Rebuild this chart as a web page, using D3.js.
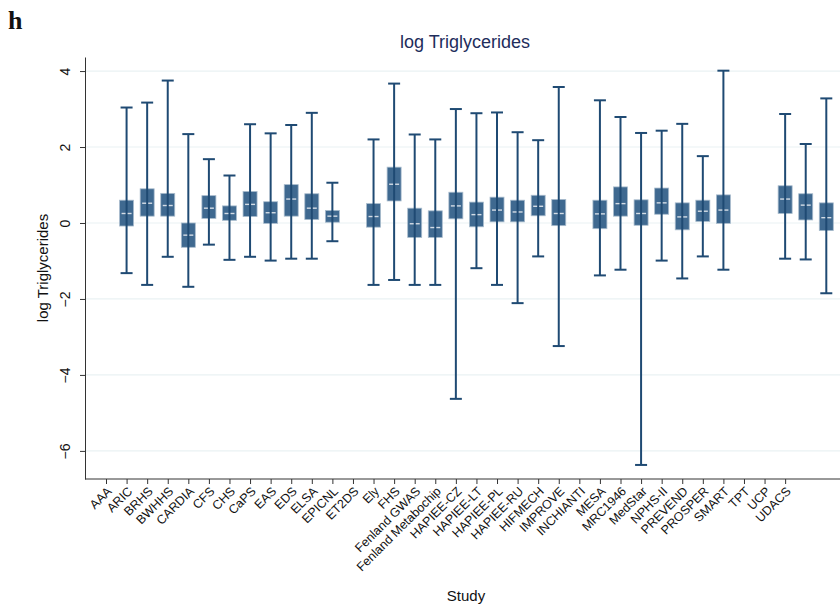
<!DOCTYPE html>
<html>
<head>
<meta charset="utf-8">
<script src="https://cdn.jsdelivr.net/npm/d3@7"></script>
<style>
  body { margin: 0; background: #fff; }
  text { font-family: "Liberation Sans", Arial, sans-serif; }
</style>
</head>
<body>
<div id="chart"></div>
<script>
// studies in plot order (last two are cut off at the right edge, no label shown)
var studies = ["AAA", "ARIC", "BRHS", "BWHHS", "CARDIA", "CFS", "CHS", "CaPS", "EAS", "EDS",
  "ELSA", "EPICNL", "ET2DS", "Ely", "FHS", "Fenland GWAS", "Fenland Metabochip", "HAPIEE-CZ",
  "HAPIEE-LT", "HAPIEE-PL", "HAPIEE-RU", "HIFMECH", "IMPROVE", "INCHIANTI", "MESA", "MRC1946",
  "MedStar", "NPHS-II", "PREVEND", "PROSPER", "SMART", "TPT", "UCP", "UDACS", "", ""];
// null = no data for the study
var whiskLo = [null, -1.32, -1.63, -0.89, -1.68, -0.57, -0.97, -0.89, -0.99, -0.94,
  -0.94, -0.48, null, -1.63, -1.50, -1.63, -1.63, -4.63,
  -1.19, -1.63, -2.11, -0.88, -3.24, null, -1.38, -1.23,
  -6.37, -0.99, -1.46, -0.88, -1.23, null, null, -0.94, -0.96, -1.85];
var q1 = [null, -0.08, 0.18, 0.18, -0.64, 0.12, 0.07, 0.17, -0.01, 0.18,
  0.09, 0.02, null, -0.11, 0.58, -0.38, -0.38, 0.11,
  -0.10, 0.03, 0.03, 0.19, -0.07, null, -0.15, 0.18,
  -0.06, 0.23, -0.18, 0.04, -0.01, null, null, 0.25, 0.08, -0.20];
var median = [null, 0.25, 0.52, 0.46, -0.32, 0.39, 0.25, 0.49, 0.27, 0.63,
  0.39, 0.18, null, 0.17, 1.02, -0.02, -0.12, 0.45,
  0.22, 0.34, 0.29, 0.44, 0.25, null, 0.24, 0.51,
  0.25, 0.53, 0.16, 0.31, 0.34, null, null, 0.63, 0.47, 0.14];
var q3 = [null, 0.60, 0.90, 0.78, 0.00, 0.72, 0.45, 0.83, 0.56, 1.01,
  0.77, 0.33, null, 0.51, 1.47, 0.39, 0.32, 0.81,
  0.55, 0.68, 0.60, 0.73, 0.62, null, 0.60, 0.95,
  0.61, 0.92, 0.53, 0.60, 0.74, null, null, 0.98, 0.77, 0.53];
var whiskHi = [null, 3.04, 3.17, 3.75, 2.34, 1.68, 1.25, 2.60, 2.36, 2.58,
  2.90, 1.06, null, 2.20, 3.67, 2.33, 2.20, 3.00,
  2.89, 2.91, 2.39, 2.18, 3.58, null, 3.23, 2.79,
  2.37, 2.43, 2.61, 1.76, 4.01, null, null, 2.87, 2.08, 3.28];
var yTicks = [4, 2, 0, -2, -4, -6];

var width = 840, height = 609;
var plotLeft = 85, plotTop = 57, plotBottom = 479;

var svg = d3.select("#chart").append("svg")
  .attr("width", width)
  .attr("height", height);

var x = d3.scalePoint()
  .domain(d3.range(studies.length))
  .range([106, 106 + 35 * 20.58]);

var y = d3.scaleLinear()
  .domain([-6.74, 4.37])
  .range([plotBottom, plotTop]);

// grid
svg.append("g").selectAll("line")
  .data(yTicks)
  .enter().append("line")
  .attr("x1", plotLeft + 1).attr("x2", width)
  .attr("y1", function(d) { return y(d); })
  .attr("y2", function(d) { return y(d); })
  .style("stroke", "#eaf2f3")
  .style("stroke-width", 1.2);

var rows = d3.range(studies.length).filter(function(i) { return median[i] != null; });

var navy = "#1f4a73";
var boxes = svg.append("g");
var bw = 14, cap = 12;

// boxes
boxes.selectAll("rect")
  .data(rows)
  .enter().append("rect")
  .attr("x", function(i) { return x(i) - bw / 2; })
  .attr("y", function(i) { return y(q3[i]); })
  .attr("width", bw)
  .attr("height", function(i) { return y(q1[i]) - y(q3[i]); })
  .style("fill", "#3f6990")
  .style("stroke", "#a9bccd")
  .style("stroke-width", 0.8);

// medians
boxes.selectAll("line.med")
  .data(rows)
  .enter().append("line")
  .attr("class", "med")
  .attr("x1", function(i) { return x(i) - 5; })
  .attr("x2", function(i) { return x(i) + 5; })
  .attr("y1", function(i) { return y(median[i]); })
  .attr("y2", function(i) { return y(median[i]); })
  .style("stroke", "#d5dde6")
  .style("stroke-width", 1.4);

// whiskers
boxes.selectAll("line.whisk")
  .data(rows)
  .enter().append("line")
  .attr("class", "whisk")
  .attr("x1", function(i) { return x(i); })
  .attr("x2", function(i) { return x(i); })
  .attr("y1", function(i) { return y(whiskHi[i]); })
  .attr("y2", function(i) { return y(whiskLo[i]); })
  .style("stroke", navy)
  .style("stroke-width", 2);

["hi", "lo"].forEach(function(k) {
  var arr = k == "hi" ? whiskHi : whiskLo;
  boxes.selectAll("line.cap" + k)
    .data(rows)
    .enter().append("line")
    .attr("class", "cap" + k)
    .attr("x1", function(i) { return x(i) - cap / 2; })
    .attr("x2", function(i) { return x(i) + cap / 2; })
    .attr("y1", function(i) { return y(arr[i]); })
    .attr("y2", function(i) { return y(arr[i]); })
    .style("stroke", navy)
    .style("stroke-width", 2);
});

// y axis
var yAxis = svg.append("g")
  .attr("transform", "translate(" + plotLeft + ",0)")
  .call(d3.axisLeft(y).tickValues(yTicks).tickSize(5).tickSizeOuter(0).tickFormat(d3.format("d")));
yAxis.select(".domain").style("stroke", "#333");
yAxis.selectAll(".tick line").style("stroke", "#333");
yAxis.selectAll(".tick text")
  .style("font-size", "14px")
  .style("fill", "#111")
  .attr("x", 0).attr("dy", 0)
  .attr("transform", "translate(-15,0) rotate(-90)")
  .style("text-anchor", "middle");

// x axis
var xAxis = svg.append("g")
  .attr("transform", "translate(0," + plotBottom + ")")
  .call(d3.axisBottom(x).tickSize(5).tickSizeOuter(0)
    .tickFormat(function(i) { return studies[i]; }));
xAxis.select(".domain").attr("d", "M" + plotLeft + ",0H" + width).style("stroke", "#333");
xAxis.selectAll(".tick line").style("stroke", function(i) { return studies[i] == "" ? "none" : "#333"; });
xAxis.selectAll(".tick text")
  .style("font-size", "12.5px")
  .style("fill", "#111")
  .style("text-anchor", "end")
  .attr("y", 0).attr("dy", 0)
  .attr("transform", "translate(6,13) rotate(-45)");

// titles
svg.append("text")
  .attr("x", 465).attr("y", 48)
  .style("text-anchor", "middle")
  .style("font-size", "18px")
  .style("fill", "#1e2d5c")
  .text("log Triglycerides");

svg.append("text")
  .attr("transform", "translate(48,268) rotate(-90)")
  .style("text-anchor", "middle")
  .style("font-size", "15px")
  .style("fill", "#111")
  .text("log Triglycerides");

svg.append("text")
  .attr("x", 466).attr("y", 601)
  .style("text-anchor", "middle")
  .style("font-size", "15px")
  .style("fill", "#111")
  .text("Study");

svg.append("text")
  .attr("x", 8).attr("y", 29)
  .style("font-family", "'Liberation Serif', 'DejaVu Serif', serif")
  .style("font-weight", "bold")
  .style("font-size", "26px")
  .style("fill", "#111")
  .text("h");
</script>
</body>
</html>
